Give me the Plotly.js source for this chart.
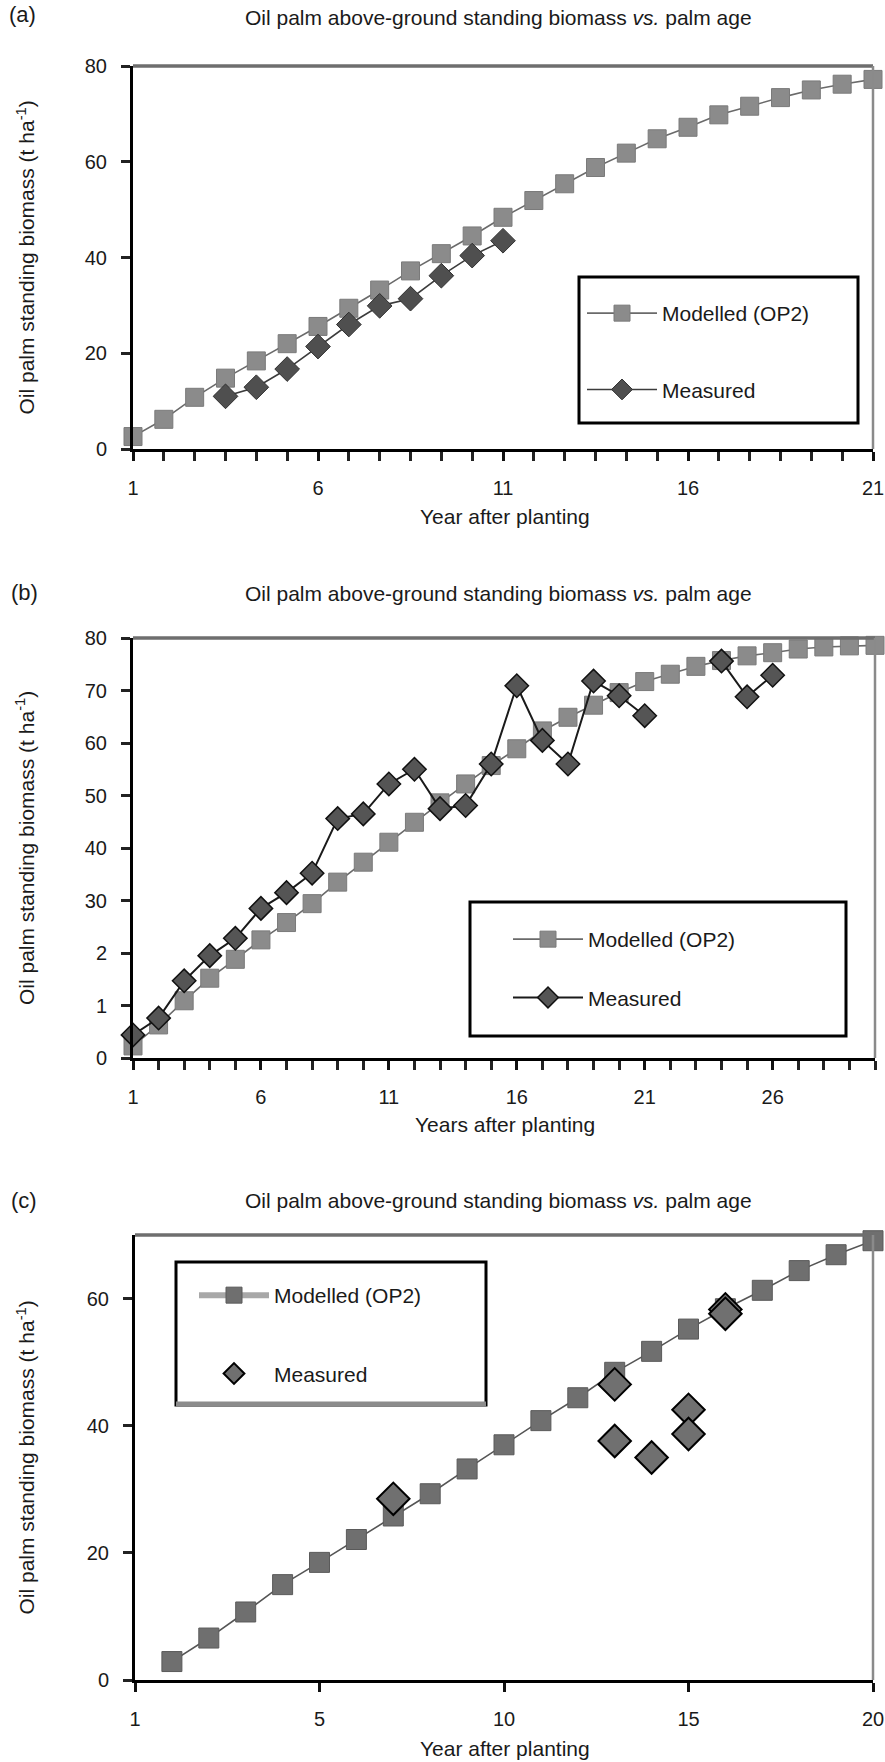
<!DOCTYPE html>
<html>
<head>
<meta charset="utf-8">
<script src="https://cdn.plot.ly/plotly-3.0.1.min.js"></script>
<style>
html,body{margin:0;padding:0;background:#fff;}
#chart{width:885px;height:1762px;}
</style>
</head>
<body>
<div id="chart"></div>
<script>
// ---------- DATA ----------
// Panel (a): 25 time steps on the category axis, labelled 1, 6, 11, 16, 21
const aStep = [1,2,3,4,5,6,7,8,9,10,11,12,13,14,15,16,17,18,19,20,21,22,23,24,25];
const aTickVals = [1,7,13,19,25];
const aTickText = ['1','6','11','16','21'];
const aModelled = [2.6,6.2,10.8,14.8,18.4,22.0,25.6,29.4,33.2,37.2,40.8,44.5,48.4,51.9,55.4,58.8,61.8,64.8,67.2,69.8,71.6,73.4,75.0,76.2,77.2];
const aMeasured = [null,null,null,11.0,12.9,16.7,21.4,26.0,29.9,31.4,36.2,40.4,43.5];
const aYTickVals = [0,20,40,60,80];

// Panel (b)
const bYear = [1,2,3,4,5,6,7,8,9,10,11,12,13,14,15,16,17,18,19,20,21,22,23,24,25,26,27,28,29,30];
const bModelled = [2.3,6.3,10.9,15.2,18.8,22.5,25.8,29.4,33.5,37.3,41.1,44.9,48.6,52.2,55.7,58.9,62.3,64.9,67.2,69.6,71.7,73.1,74.6,75.7,76.6,77.2,77.9,78.3,78.5,78.6];
const bMeasured = [4.4,7.6,14.7,19.5,22.8,28.5,31.5,35.2,45.6,46.5,52.2,55.0,47.5,48.1,56.0,70.9,60.5,56.0,71.8,69.0,65.2,null,null,75.6,68.8,72.9];
const bTickVals = [1,6,11,16,21,26];
const bTickText = ['1','6','11','16','21','26'];
const bYTickVals = [0,10,20,30,40,50,60,70,80];
const bYTickText = ['0','1','2','30','40','50','60','70','80'];

// Panel (c)
const cYear = [1,2,3,4,5,6,7,8,9,10,11,12,13,14,15,16,17,18,19,20];
const cModelled = [2.9,6.6,10.7,15.0,18.5,22.1,25.8,29.3,33.2,37.0,40.8,44.4,48.4,51.7,55.2,58.4,61.3,64.4,66.9,69.1];
const cMeasuredYear = [7,13,13,14,15,15,16,16];
const cMeasured = [28.5,46.5,37.6,35.0,42.5,38.7,58.3,57.6];
const cTickVals = [0,5,10,15,20];
const cTickText = ['1','5','10','15','20'];
const cYTickVals = [0,20,40,60];

const panelLabels = ['(a)','(b)','(c)'];
const chartTitle = 'Oil palm above-ground standing biomass <i>vs.</i> palm age';
const yTitle = 'Oil palm standing biomass (t ha<sup>-1</sup>)';
const xTitles = ['Year after planting','Years after planting','Year after planting'];
const seriesNames = ['Modelled (OP2)','Measured'];

// ---------- LAYOUT HELPERS ----------
const W = 885, H = 1762;
const FONT = 'Liberation Sans, Arial, Helvetica, sans-serif';
const px = v => v / W;
const py = v => 1 - v / H;

function xAxis(dom, range, tv, tt, anchor, minor) {
  const ax = {
    domain: [px(dom[0]), px(dom[1])], range: range, anchor: anchor,
    tickmode: 'array', tickvals: tv, ticktext: tt,
    showline: true, linecolor: '#000', linewidth: 3,
    ticks: 'outside', ticklen: 9, tickwidth: 2.5, tickcolor: '#111',
    showgrid: false, zeroline: false, fixedrange: true,
    ticklabelstandoff: 10, ticklabeloverflow: 'allow',
    tickfont: {family: FONT, size: 20, color: '#1a1a1a'}
  };
  if (minor) ax.minor = {ticks: 'outside', ticklen: 9, tickwidth: 2.5, tickcolor: '#222', tickmode: 'linear', tick0: 1, dtick: 1, showgrid: false};
  return ax;
}
function yAxis(dom, range, tv, tt, anchor) {
  return {
    domain: [py(dom[1]), py(dom[0])], range: range, anchor: anchor,
    tickmode: 'array', tickvals: tv, ticktext: tt,
    showline: true, linecolor: '#000', linewidth: 3,
    ticks: 'outside', ticklen: 9, tickwidth: 2.5, tickcolor: '#222',
    showgrid: false, zeroline: false, fixedrange: true,
    ticklabelstandoff: 10, ticklabeloverflow: 'allow',
    tickfont: {family: FONT, size: 20, color: '#1a1a1a'}
  };
}
function frame(xr, yr) {
  return [
    {type: 'line', xref: xr + ' domain', yref: yr + ' domain', x0: 0, x1: 1, y0: 1, y1: 1, line: {color: '#6e6e6e', width: 3.5}},
    {type: 'line', xref: xr + ' domain', yref: yr + ' domain', x0: 1, x1: 1, y0: 0, y1: 1, line: {color: '#8a8a8a', width: 2.5}}
  ];
}
function box(x0, x1, y0, y1) {
  return {type: 'rect', xref: 'paper', yref: 'paper', x0: px(x0), x1: px(x1), y0: py(y1), y1: py(y0),
    line: {color: '#000', width: 3}, fillcolor: 'rgba(0,0,0,0)'};
}
function ann(text, x, y, size, extra) {
  return Object.assign({text: text, x: px(x), y: py(y), xref: 'paper', yref: 'paper',
    showarrow: false, xanchor: 'center', yanchor: 'middle',
    font: {family: FONT, size: size, color: '#1a1a1a'}}, extra || {});
}

// ---------- TRACES ----------
const traces = [
  // (a)
  {x: aStep, y: aModelled, name: seriesNames[0], xaxis: 'x', yaxis: 'y', legend: 'legend', legendgroup: 'am',
   mode: 'lines+markers', cliponaxis: false,
   line: {color: '#6a6a6a', width: 1.6},
   marker: {symbol: 'square', size: 18, color: '#8b8b8b', line: {color: '#7a7a7a', width: 1}}},
  {x: aStep, y: aMeasured, name: seriesNames[1], xaxis: 'x', yaxis: 'y', legend: 'legend', legendgroup: 'ameas',
   mode: 'lines+markers', cliponaxis: false,
   line: {color: '#3c3c3c', width: 1.6},
   marker: {symbol: 'diamond', size: 19, color: '#4f4f4f', line: {color: '#303030', width: 1}}},
  // (b)
  {x: bYear, y: bModelled, name: seriesNames[0], xaxis: 'x2', yaxis: 'y2', legend: 'legend2', legendgroup: 'bm',
   mode: 'lines+markers', cliponaxis: false,
   line: {color: '#6a6a6a', width: 1.6},
   marker: {symbol: 'square', size: 18, color: '#8b8b8b', line: {color: '#7a7a7a', width: 1}}},
  {x: bYear, y: bMeasured, name: seriesNames[1], xaxis: 'x2', yaxis: 'y2', legend: 'legend2', legendgroup: 'bmeas',
   mode: 'lines+markers', cliponaxis: false, connectgaps: false,
   line: {color: '#1a1a1a', width: 2},
   marker: {symbol: 'diamond', size: 18, color: '#555555', line: {color: '#111', width: 1.5}}},
  // (c)
  {x: cYear, y: cModelled, name: seriesNames[0], xaxis: 'x3', yaxis: 'y3', showlegend: false,
   mode: 'lines+markers', cliponaxis: false,
   line: {color: '#555555', width: 1.6},
   marker: {symbol: 'square', size: 20, color: '#6f6f6f', line: {color: '#5a5a5a', width: 1}}},
  {x: [null], y: [null], name: seriesNames[0], xaxis: 'x3', yaxis: 'y3', legend: 'legend3', legendgroup: 'cm',
   mode: 'lines+markers',
   line: {color: '#a8a8a8', width: 6},
   marker: {symbol: 'square', size: 16, color: '#6f6f6f', line: {color: '#5a5a5a', width: 1}}},
  {x: cMeasuredYear, y: cMeasured, name: seriesNames[1], xaxis: 'x3', yaxis: 'y3', legend: 'legend3', legendgroup: 'cmeas',
   mode: 'markers', cliponaxis: false,
   marker: {symbol: 'diamond', size: 25, color: '#707070', line: {color: '#000', width: 2}}}
];

// ---------- LAYOUT ----------
const legendBase = {xanchor: 'left', yanchor: 'top', bgcolor: 'rgba(0,0,0,0)', borderwidth: 0,
  traceorder: 'grouped', itemwidth: 70, font: {family: FONT, size: 21, color: '#1a1a1a'}};

const layout = {
  width: W, height: H,
  margin: {l: 0, r: 0, t: 0, b: 0},
  paper_bgcolor: '#fff', plot_bgcolor: 'rgba(0,0,0,0)',
  showlegend: true,
  font: {family: FONT, color: '#1a1a1a'},
  xaxis: xAxis([133, 873], [1, 25], aTickVals, aTickText, 'y', true),
  yaxis: yAxis([66, 449], [0, 80], aYTickVals, aYTickVals.map(String), 'x'),
  xaxis2: xAxis([133, 875], [1, 30], bTickVals, bTickText, 'y2', true),
  yaxis2: yAxis([638, 1058], [0, 80], bYTickVals, bYTickText, 'x2'),
  xaxis3: xAxis([135, 873], [0, 20], cTickVals, cTickText, 'y3', false),
  yaxis3: yAxis([1235, 1680], [0, 70], cYTickVals, cYTickVals.map(String), 'x3'),
  legend: Object.assign({}, legendBase, {x: px(582), y: py(293), tracegroupgap: 46}),
  legend2: Object.assign({}, legendBase, {x: px(508), y: py(919), tracegroupgap: 28}),
  legend3: Object.assign({}, legendBase, {x: px(194), y: py(1275), tracegroupgap: 48}),
  shapes: [].concat(
    frame('x', 'y'), frame('x2', 'y2'), frame('x3', 'y3'),
    [box(579, 858, 277, 423), box(470, 846, 902, 1036), box(176, 486, 1262, 1405),
     {type: 'line', xref: 'paper', yref: 'paper', x0: px(176), x1: px(486), y0: py(1404), y1: py(1404), line: {color: '#8c8c8c', width: 5}}]
  ),
  annotations: [
    ann(panelLabels[0], 22, 15, 22), ann(chartTitle, 498, 17, 21),
    ann(yTitle, 25, 257.5, 21, {textangle: -90}), ann(xTitles[0], 505, 516, 21),
    ann(panelLabels[1], 24, 592, 22), ann(chartTitle, 498, 593, 21),
    ann(yTitle, 25, 848, 21, {textangle: -90}), ann(xTitles[1], 505, 1124, 21),
    ann(panelLabels[2], 24, 1200, 22), ann(chartTitle, 498, 1200, 21),
    ann(yTitle, 25, 1457.5, 21, {textangle: -90}), ann(xTitles[2], 505, 1748, 21)
  ]
};

Plotly.newPlot('chart', traces, layout, {displayModeBar: false, responsive: false});
</script>
</body>
</html>
